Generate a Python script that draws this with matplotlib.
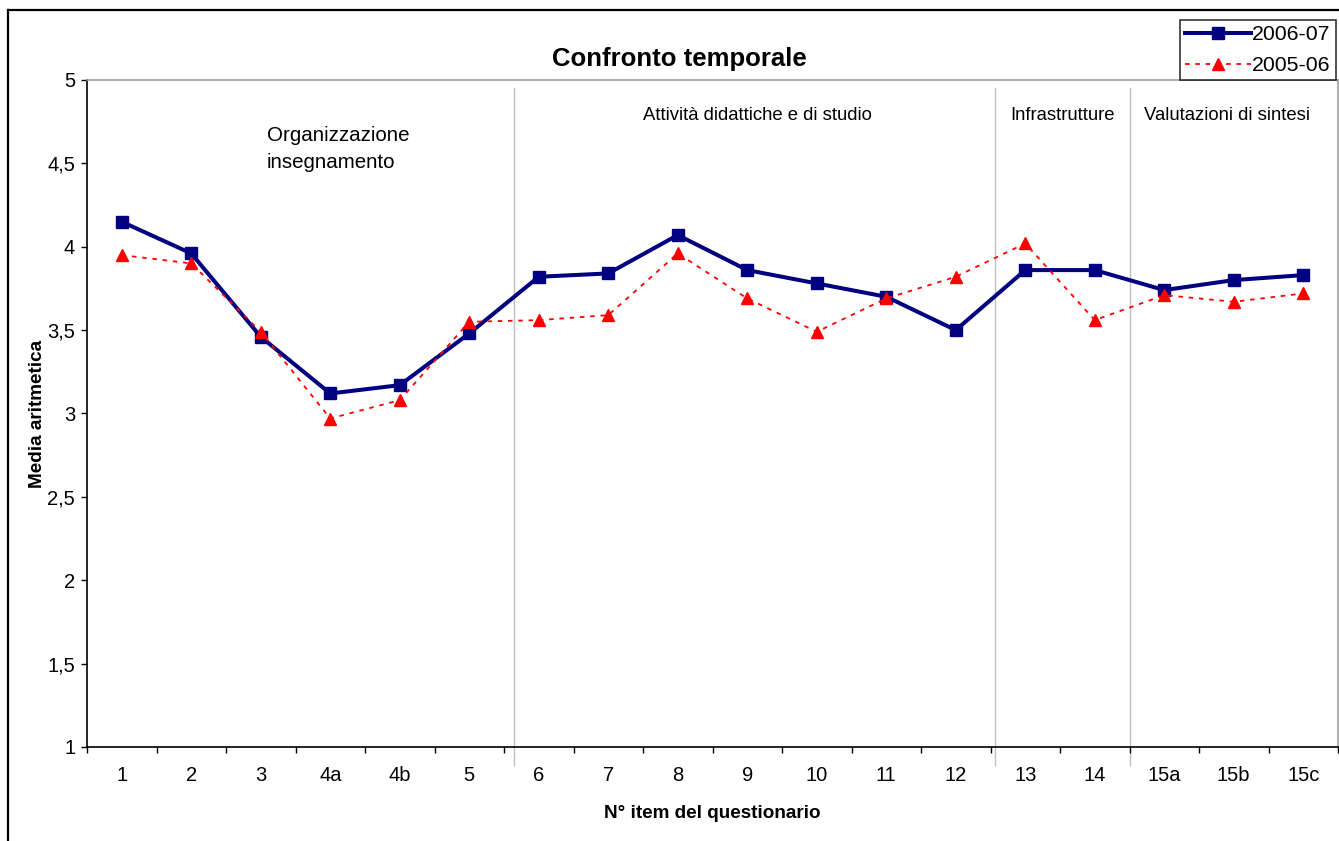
import matplotlib.pyplot as plt
from matplotlib.lines import Line2D

plt.rcParams['font.family'] = ['Liberation Sans', 'DejaVu Sans']

items = ['1', '2', '3', '4a', '4b', '5', '6', '7', '8', '9', '10', '11', '12',
         '13', '14', '15a', '15b', '15c']
media_2006_07 = [4.15, 3.96, 3.46, 3.12, 3.17, 3.48, 3.82, 3.84, 4.07, 3.86,
                 3.78, 3.70, 3.50, 3.86, 3.86, 3.74, 3.80, 3.83]
media_2005_06 = [3.95, 3.90, 3.49, 2.97, 3.08, 3.55, 3.56, 3.59, 3.96, 3.69,
                 3.49, 3.69, 3.82, 4.02, 3.56, 3.71, 3.67, 3.72]
sections = ['Organizzazione\ninsegnamento', 'Attività didattiche e di studio',
            'Infrastrutture', 'Valutazioni di sintesi']

fig = plt.figure(figsize=(13.39, 8.41), dpi=100)
ax = fig.add_axes([87/1339, 94/841, 1251/1339, 667/841])

x = list(range(len(items)))
ax.plot(x, media_2006_07, color='#000080', lw=2.9, marker='s', ms=8.5,
        label='2006-07', zorder=3)
ax.plot(x, media_2005_06, color='#ff0000', lw=1.3, ls=(0, (2.5, 3.2)),
        marker='^', ms=9, label='2005-06', zorder=4)

ax.set_xlim(-0.5, len(items) - 0.5)
ax.set_ylim(1, 5)
ax.set_yticks([1, 1.5, 2, 2.5, 3, 3.5, 4, 4.5, 5])
ax.set_yticklabels(['1', '1,5', '2', '2,5', '3', '3,5', '4', '4,5', '5'])
ax.set_xticks(x)
ax.set_xticklabels(items)
ax.set_xticks([i - 0.5 for i in range(len(items) + 1)], minor=True)
ax.tick_params(axis='x', which='major', length=0, pad=14, labelsize=14.5)
ax.tick_params(axis='x', which='minor', length=4.5, width=1, direction='out')
ax.tick_params(axis='y', length=4.5, width=1, pad=4, labelsize=14.5)

for s in ['left', 'bottom']:
    ax.spines[s].set_color('black')
    ax.spines[s].set_linewidth(1.2)
for s in ['top', 'right']:
    ax.spines[s].set_color('#a0a0a0')
    ax.spines[s].set_linewidth(1.2)

# separatori delle sezioni
for xs in [5.64, 12.56, 14.5]:
    ax.plot([xs, xs], [4.95, 0.89], color='#c0c0c0', lw=1, clip_on=False,
            zorder=1)

ax.text(2.09, 4.725, sections[0], ha='left', va='top', fontsize=14.8,
        linespacing=1.55)
ax.text(9.15, 4.79, sections[1], ha='center', va='center', fontsize=13.3)
ax.text(13.53, 4.79, sections[2], ha='center', va='center', fontsize=13.3)
ax.text(15.90, 4.79, sections[3], ha='center', va='center', fontsize=13.3)

fig.text(679/1339, 1 - 59/841, 'Confronto temporale', ha='center',
         va='center', fontsize=18.5, fontweight='bold')
ax.set_ylabel('Media aritmetica', fontsize=13.6, fontweight='bold', labelpad=1)
ax.set_xlabel('N° item del questionario', fontsize=13.6, fontweight='bold',
              labelpad=14)

leg = fig.legend(loc='upper right', bbox_to_anchor=(1336/1339, 1 - 20/841),
                 fontsize=15.3, frameon=True, fancybox=False, handlelength=3.1,
                 borderpad=0.25, labelspacing=0.55, handletextpad=0.05,
                 borderaxespad=0)
leg.get_frame().set_edgecolor('black')
leg.get_frame().set_linewidth(1.2)

# cornice esterna
fig.add_artist(Line2D([8/1339, 8/1339], [0, 1 - 10/841], color='black',
                      lw=1.6, transform=fig.transFigure))
fig.add_artist(Line2D([8/1339, 1], [1 - 10/841, 1 - 10/841], color='black',
                      lw=1.6, transform=fig.transFigure))

fig.savefig('out.png', dpi=100)
